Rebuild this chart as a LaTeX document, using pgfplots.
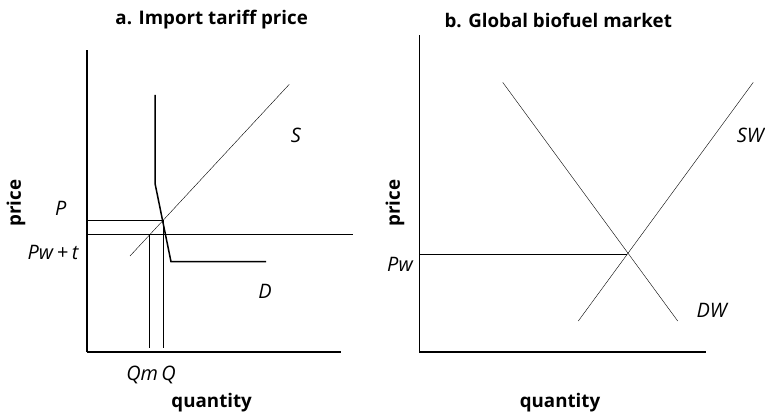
\documentclass[border=0pt]{standalone}
\usepackage{pgfplots}
\pgfplotsset{compat=1.18}
\usepackage{fontspec}
\setmainfont{Open Sans}
\newcommand\lab{\fontsize{20}{23}\selectfont\itshape}
\begin{document}
\fontsize{18.8}{22}\selectfont
\begin{tikzpicture}
\useasboundingbox (0,0) rectangle (765bp,414bp);
\pgfplotsset{econ/.style={
  x=1bp, y=1bp, anchor=south west, clip=false,
  axis lines=left, axis line style={-, line width=1.3bp},
  xtick=\empty, ytick=\empty,
  cycle list={{black,solid,line width=0.9bp,mark=none}}}}
% panel a
\begin{axis}[econ, at={(87bp,62bp)}, xmin=87, xmax=341, ymin=62, ymax=364]
\addplot coordinates {(130,158) (289.3,329.7)};
\addplot[black, line width=1.5bp] coordinates {(155,319) (155,230.7) (171,152.3) (266,152.3)};
\addplot coordinates {(87,194) (163,194)};
\addplot coordinates {(87,179.7) (352.7,179.7)};
\addplot coordinates {(149,179.7) (149,66.3)};
\addplot coordinates {(163,194) (163,66.3)};
\node at (axis cs:60.7,206) {\lab P};
\node at (axis cs:53,162) {\lab Pw\/\upshape\,+\,\itshape t};
\node at (axis cs:296,279) {\lab S};
\node at (axis cs:265,122.3) {\lab D};
\node at (axis cs:151,39) {\lab Qm\,Q};
\node at (axis cs:211.7,11) {\bfseries quantity};
\node at (axis cs:211.7,394) {\bfseries a. Import tariff price};
\node[rotate=90] at (axis cs:16,211) {\bfseries price};
\end{axis}
% panel b
\begin{axis}[econ, at={(419.3bp,62bp)}, xmin=419.3, xmax=705.7, ymin=62, ymax=379]
\addplot coordinates {(502.7,331.7) (677.7,93)};
\addplot coordinates {(578.3,93) (753.3,331.7)};
\addplot coordinates {(419.3,160) (627,160)};
\node at (axis cs:400,150) {\lab Pw};
\node[anchor=east, inner sep=1bp] at (axis cs:765,279) {\lab SW};
\node at (axis cs:711.7,104) {\lab DW};
\node at (axis cs:558.3,394) {\bfseries b. Global biofuel market};
\node[rotate=90] at (axis cs:395,211) {\bfseries price};
\node at (axis cs:560,11) {\bfseries quantity};
\end{axis}
\end{tikzpicture}
\end{document}
